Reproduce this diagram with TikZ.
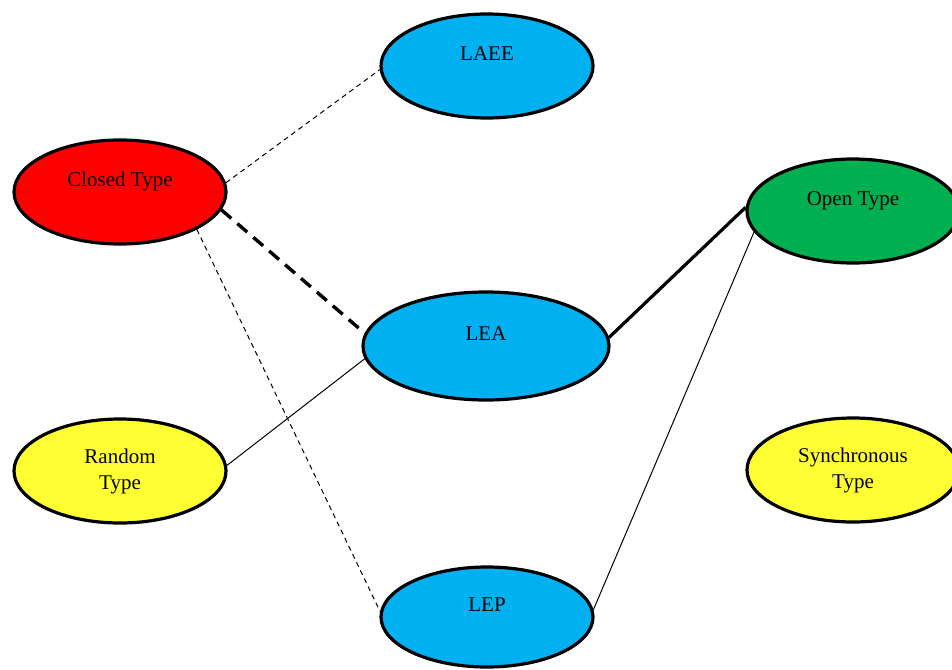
\documentclass[tikz,border=0pt]{standalone}
\usepackage{fontspec}
\setmainfont{Liberation Serif}
\usepackage{tikz}
\usetikzlibrary{shapes.geometric}

\definecolor{typered}{HTML}{FF0000}
\definecolor{typeblue}{HTML}{00B0F0}
\definecolor{typegreen}{HTML}{00B050}
\definecolor{typeyellow}{HTML}{FFFF33}

\begin{document}
\begin{tikzpicture}[x = 0.5pt, y = -0.5pt,
                        oval/.style = {ellipse, draw, line width = 1.6pt, minimum width = 106pt, minimum height = 52pt,
                                       inner sep = 0pt, align = center, font = \fontsize{10.5}{13}\selectfont},
                        upper/.style = {text height = 7pt, text depth = 13pt},
                        weakdash/.style = {line width = 0.5pt, dash pattern = on 2.5pt off 2pt},
                        strongdash/.style = {line width = 1.7pt, dash pattern = on 6.5pt off 4pt},
                        weakline/.style = {line width = 0.5pt},
                        strongline/.style = {line width = 1.6pt}]
      \clip (0, 0) rectangle (952, 669);
      \node [oval, upper, fill = typered] (closed) at (120, 192){Closed Type};
      \node [oval, fill = typeyellow] (random) at (120, 471){Random\\Type};
      \node [oval, upper, fill = typeblue] (laee) at (487, 66){LAEE};
      \node [oval, upper, fill = typeblue, minimum width = 123pt, minimum height = 54pt] (lea) at (486, 346){LEA};
      \node [oval, upper, fill = typeblue, minimum height = 50pt] (lep) at (487, 617){LEP};
      \node [oval, upper, fill = typegreen] (open) at (853, 211){Open Type};
      \node [oval, fill = typeyellow] (sync) at (853, 470){Synchronous\\Type};
      \draw [weakdash] (closed.5) -- (laee.182);
      \draw [strongdash] (closed.-10) -- (lea.174);
      \draw [weakdash] (closed.-26) -- (lep.177);
      \draw [weakline] (random.3) -- (lea.186);
      \draw [strongline] (lea.4) -- (open.178);
      \draw [weakline] (open.192) -- (lep.4);
    \end{tikzpicture}
\end{document}
